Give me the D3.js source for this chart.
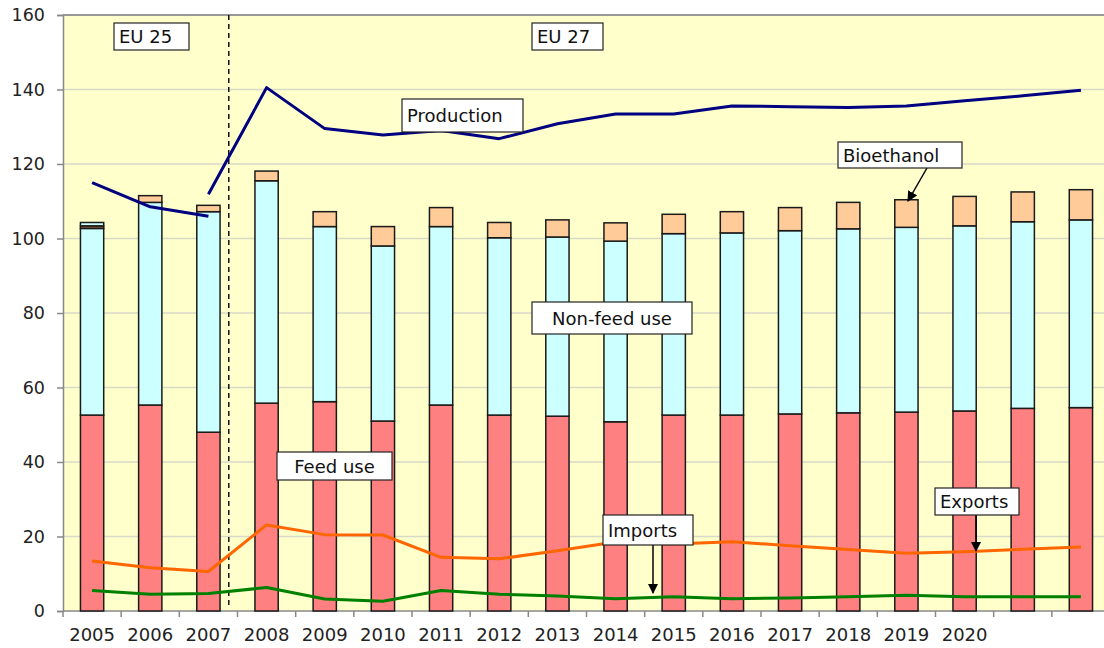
<!DOCTYPE html>
<html><head><meta charset="utf-8">
<script src="https://cdn.jsdelivr.net/npm/d3@7"></script>
<style>body{margin:0;background:#fff}svg{display:block}text{font-family:"DejaVu Sans",Verdana,sans-serif}</style>
</head><body><svg id="c" width="1104" height="648"></svg>
<script>
const years = ["2005","2006","2007","2008","2009","2010","2011","2012","2013","2014","2015","2016","2017","2018","2019","2020","2021","2022"];
const xTickLabels = ["2005","2006","2007","2008","2009","2010","2011","2012","2013","2014","2015","2016","2017","2018","2019","2020","",""];
const yTicks = [0,20,40,60,80,100,120,140,160];
// stacked bar segments
const feedUse =    [52.6,55.3,48.0,55.8,56.2,51.0,55.3,52.6,52.3,50.8,52.6,52.6,52.9,53.2,53.4,53.7,54.4,54.6];
const nonFeedUse = [50.1,54.4,59.2,59.7,47.0,47.0,47.9,47.6,48.1,48.5,48.7,48.9,49.2,49.4,49.6,49.7,50.1,50.4];
const bioethanol = [0.7,1.8,1.7,2.6,4.0,5.2,5.1,4.1,4.6,4.9,5.2,5.7,6.2,7.1,7.4,7.9,8.0,8.1];
const otherUse =   [0.9,0,0,0,0,0,0,0,0,0,0,0,0,0,0,0,0,0];
// lines
const prodEU25Years = ["2005","2006","2007"];
const prodEU25 = [115.0,108.5,106.0];
const prodEU27Years = ["2007","2008","2009","2010","2011","2012","2013","2014","2015","2016","2017","2018","2019","2020","2021","2022"];
const prodEU27 = [111.9,140.5,129.5,127.8,129.0,126.8,130.8,133.4,133.4,135.6,135.4,135.2,135.6,137.0,138.3,139.8];
const exportsVals = [13.4,11.6,10.6,23.1,20.5,20.4,14.4,14.0,16.2,18.5,18.0,18.6,17.5,16.5,15.5,15.9,16.6,17.2];
const importsVals = [5.5,4.5,4.7,6.3,3.2,2.6,5.5,4.5,4.0,3.3,3.8,3.3,3.5,3.8,4.2,3.8,3.8,3.8];

const svg = d3.select("#c");
const L = 63, R = 1110, T = 15, B = 611;
const x = d3.scaleBand().domain(years).range([L, R]).paddingInner(0.6).paddingOuter(0.3);
const y = d3.scaleLinear().domain([0,160]).range([B, T]);
const step = x.step();
const cx = d => x(d) + x.bandwidth()/2;

// background
svg.append("rect").attr("x", L).attr("y", T).attr("width", R-L).attr("height", B-T).attr("fill", "#FFFFCC");
// grid
svg.append("g").selectAll("line").data(yTicks.filter(v=>v>0 && v<160)).join("line")
  .attr("x1", L).attr("x2", R).attr("y1", d=>y(d)).attr("y2", d=>y(d))
  .attr("stroke", "#d9d9c8").attr("stroke-width", 1.5);
// top border
svg.append("line").attr("x1", L).attr("x2", R).attr("y1", T).attr("y2", T).attr("stroke", "#999").attr("stroke-width", 2);

// Y axis
const yAxis = d3.axisLeft(y).tickValues(yTicks).tickSize(6).tickPadding(12);
const gy = svg.append("g").attr("transform", `translate(${L},0)`).call(yAxis);
gy.select(".domain").attr("stroke", "#888").attr("stroke-width", 1.5);
gy.selectAll(".tick line").attr("stroke", "#888").attr("stroke-width", 1.5);
gy.selectAll("text").attr("font-size", "17.5px").attr("fill", "#222").attr("font-family", '"DejaVu Sans",Verdana,sans-serif');

// X axis
const xAxis = d3.axisBottom(x).tickFormat((d,i)=>xTickLabels[i]).tickSize(0).tickPadding(17);
const gx = svg.append("g").attr("transform", `translate(0,${B})`).call(xAxis);
gx.select(".domain").remove();
gx.selectAll("text").attr("font-size", "18px").attr("fill", "#222").attr("font-family", '"DejaVu Sans",Verdana,sans-serif');
svg.append("line").attr("x1", L).attr("x2", R).attr("y1", B).attr("y2", B).attr("stroke", "#888").attr("stroke-width", 1.5);
svg.append("g").selectAll("line").data(d3.range(years.length+1)).join("line")
  .attr("x1", i => x(years[0]) - step*0.3 + i*step).attr("x2", i => x(years[0]) - step*0.3 + i*step)
  .attr("y1", B).attr("y2", B+6).attr("stroke", "#888").attr("stroke-width", 1.5);

// bars
const rows = years.map((yr,i)=>({yr, segs:[
  {v:feedUse[i], c:"#FF8080"},
  {v:nonFeedUse[i], c:"#CCFFFF"},
  {v:bioethanol[i], c: yr==="2005" ? "#8B5A3C" : "#FFCC99"},
  {v:otherUse[i], c:"#CCFFFF"}
]}));
const gb = svg.append("g");
rows.forEach(r=>{
  let base = 0;
  r.segs.forEach(s=>{
    if (s.v <= 0) return;
    gb.append("rect").attr("x", x(r.yr)).attr("width", x.bandwidth())
      .attr("y", y(base + s.v)).attr("height", y(base) - y(base + s.v))
      .attr("fill", s.c).attr("stroke", "#1a1a1a").attr("stroke-width", 1.5);
    base += s.v;
  });
});

// dashed divider
const xd = cx("2007") + 0.35*step;
svg.append("line").attr("x1", xd).attr("x2", xd).attr("y1", T).attr("y2", y(1))
  .attr("stroke", "#111").attr("stroke-width", 1.5).attr("stroke-dasharray", "5,4");

// lines
const line = d3.line().x(d=>cx(d[0])).y(d=>y(d[1]));
function drawLine(ys, vals, color){
  svg.append("path").datum(ys.map((d,i)=>[d, vals[i]])).attr("d", line)
    .attr("fill","none").attr("stroke", color).attr("stroke-width", 3).attr("stroke-linejoin","round");
}
drawLine(years, importsVals, "#008000");
drawLine(years, exportsVals, "#FF6600");
drawLine(prodEU25Years, prodEU25, "#000080");
drawLine(prodEU27Years, prodEU27, "#000080");

// arrow marker
svg.append("defs").append("marker").attr("id","ah").attr("viewBox","0 0 10 10").attr("refX",9).attr("refY",5)
  .attr("markerWidth",7).attr("markerHeight",7).attr("orient","auto-start-reverse")
  .append("path").attr("d","M0,0 L10,5 L0,10 z").attr("fill","#000");
function arrow(x1,y1,x2,y2){
  svg.append("line").attr("x1",x1).attr("y1",y1).attr("x2",x2).attr("y2",y2)
    .attr("stroke","#000").attr("stroke-width",1.5).attr("marker-end","url(#ah)");
}
arrow(927, 168, 908, 201);
arrow(653, 545, 653, 593);
arrow(976, 515, 976, 551);

// labels
function box(x0, y0, w, h, txt, centered){
  svg.append("rect").attr("x",x0).attr("y",y0).attr("width",w).attr("height",h)
    .attr("fill","#fff").attr("stroke","#222").attr("stroke-width",1.2);
  svg.append("text").attr("x", centered ? x0+w/2 : x0+5).attr("y",y0+h/2+6.5)
    .attr("text-anchor", centered ? "middle" : "start")
    .attr("font-size","18px").attr("fill","#111").text(txt);
}
box(114, 23, 75, 27, "EU 25", false);
box(532, 23, 71, 27, "EU 27", false);
box(402, 99, 121, 33, "Production", false);
box(838, 142, 124, 26, "Bioethanol", false);
box(532, 302, 160, 32, "Non-feed use", true);
box(277, 452, 115, 28, "Feed use", true);
box(603, 515, 90, 30, "Imports", false);
box(935, 488, 84, 27, "Exports", false);
</script></body></html>
